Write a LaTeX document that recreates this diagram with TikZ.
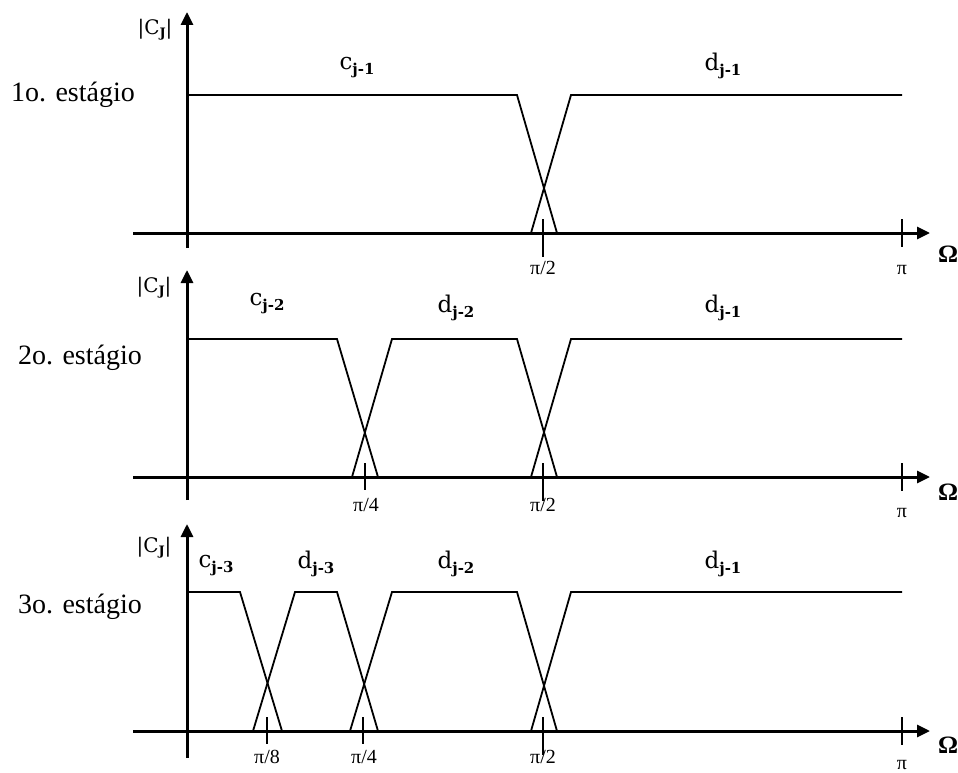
\documentclass[tikz,border=0pt]{standalone}
\usepackage{fontspec}
\setmainfont{Liberation Serif}
\newfontfamily\lblfont{DejaVu Serif}
\usetikzlibrary{arrows.meta}
\tikzset{
  axisline/.style={line width=3pt,-{Triangle[length=13pt,width=12pt]}},
  tickline/.style={line width=1.5pt},
  filt/.style={line width=1.8pt,line join=miter},
  stage/.style={font=\fontsize{28}{30}\selectfont,inner sep=0pt},
  mag/.style={font=\lblfont\fontsize{20}{22}\selectfont,inner sep=0pt},
  band/.style={font=\lblfont\fontsize{23}{25}\selectfont,inner sep=0pt},
  tlab/.style={font=\fontsize{20}{22}\selectfont,inner sep=0pt},
  omg/.style={font=\fontsize{25}{27}\selectfont\bfseries,inner sep=0pt},
}
\newcommand{\bsub}[1]{\raisebox{-5pt}{\fontsize{15}{15}\selectfont\bfseries #1}}
\newcommand{\magtxt}{|C\raisebox{-3pt}{\fontsize{13}{13}\selectfont\bfseries J}|}
\begin{document}
\begin{tikzpicture}[x=1pt,y=-1pt]
\useasboundingbox (0,0) rectangle (958,773);
% ---------- panel 1 ----------
\coordinate (a1l) at (133,233); \coordinate (a1r) at (930,233);
\coordinate (y1b) at (187,248); \coordinate (y1t) at (187,12);
\draw[axisline] (a1l) -- (a1r);
\draw[axisline] (y1b) -- (y1t);
\coordinate (t1a) at (543,219); \coordinate (t1b) at (543,257);
\coordinate (t1c) at (902,219); \coordinate (t1d) at (902,247);
\draw[tickline] (t1a) -- (t1b);
\draw[tickline] (t1c) -- (t1d);
\draw[filt] (187,95) -- (517,95) -- (557,233);
\draw[filt] (531,233) -- (571,95) -- (902,95);
\node[stage] (s1) at (73,95) {1o. estágio};
\node[mag] (m1) at (155,30) {\magtxt};
\node[band] (c1) at (357,68) {c\bsub{j-1}};
\node[band] (d1) at (723,66) {d\bsub{j-1}};
\node[tlab] (p1a) at (543,268) {π/2};
\node[tlab] (p1b) at (902,270) {π};
\node[omg] (o1) at (948,254) {Ω};
% ---------- panel 2 ----------
\coordinate (a2l) at (133,477); \coordinate (a2r) at (930,477);
\coordinate (y2b) at (187,500); \coordinate (y2t) at (187,270);
\draw[axisline] (a2l) -- (a2r);
\draw[axisline] (y2b) -- (y2t);
\coordinate (t2a) at (365,463); \coordinate (t2b) at (365,490);
\coordinate (t2c) at (543,463); \coordinate (t2d) at (543,501);
\coordinate (t2e) at (902,463); \coordinate (t2f) at (902,491);
\draw[tickline] (t2a) -- (t2b);
\draw[tickline] (t2c) -- (t2d);
\draw[tickline] (t2e) -- (t2f);
\draw[filt] (187,339) -- (337,339) -- (378,477);
\draw[filt] (352,477) -- (392,339) -- (517,339) -- (557,477);
\draw[filt] (531,477) -- (571,339) -- (902,339);
\node[stage] (s2) at (80,358) {2o. estágio};
\node[mag] (m2) at (154,288) {\magtxt};
\node[band] (c2) at (267,304) {c\bsub{j-2}};
\node[band] (d22) at (456,308) {d\bsub{j-2}};
\node[band] (d21) at (723,308) {d\bsub{j-1}};
\node[tlab] (p2a) at (366,505) {π/4};
\node[tlab] (p2b) at (543,505) {π/2};
\node[tlab] (p2c) at (902,513) {π};
\node[omg] (o2) at (948,492) {Ω};
% ---------- panel 3 ----------
\coordinate (a3l) at (133,731); \coordinate (a3r) at (930,731);
\coordinate (y3b) at (187,758); \coordinate (y3t) at (187,524);
\draw[axisline] (a3l) -- (a3r);
\draw[axisline] (y3b) -- (y3t);
\coordinate (t3a) at (267,717); \coordinate (t3b) at (267,744);
\coordinate (t3c) at (363,717); \coordinate (t3d) at (363,744);
\coordinate (t3e) at (543,717); \coordinate (t3f) at (543,755);
\coordinate (t3g) at (902,717); \coordinate (t3h) at (902,745);
\draw[tickline] (t3a) -- (t3b);
\draw[tickline] (t3c) -- (t3d);
\draw[tickline] (t3e) -- (t3f);
\draw[tickline] (t3g) -- (t3h);
\draw[filt] (187,592) -- (240,592) -- (282,731);
\draw[filt] (253,731) -- (295,592) -- (337,592) -- (378,731);
\draw[filt] (350,731) -- (392,592) -- (517,592) -- (557,731);
\draw[filt] (531,731) -- (571,592) -- (902,592);
\node[stage] (s3) at (80,607) {3o. estágio};
\node[mag] (m3) at (154,548) {\magtxt};
\node[band] (c3) at (216,566) {c\bsub{j-3}};
\node[band] (d33) at (316,564) {d\bsub{j-3}};
\node[band] (d32) at (456,564) {d\bsub{j-2}};
\node[band] (d31) at (723,564) {d\bsub{j-1}};
\node[tlab] (p3a) at (267,757) {π/8};
\node[tlab] (p3b) at (364,757) {π/4};
\node[tlab] (p3c) at (543,757) {π/2};
\node[tlab] (p3d) at (902,765) {π};
\node[omg] (o3) at (948,745) {Ω};
\end{tikzpicture}
\end{document}
